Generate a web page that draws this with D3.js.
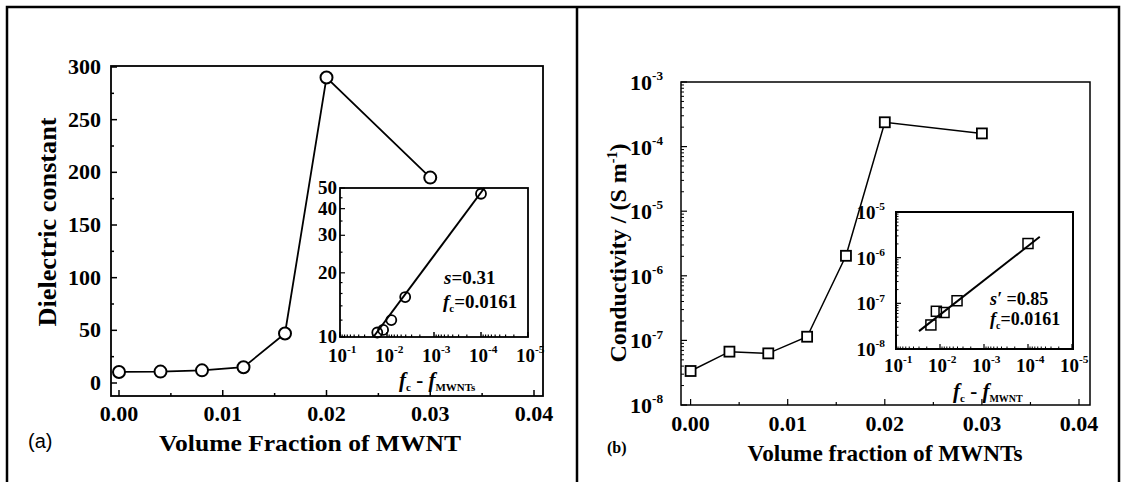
<!DOCTYPE html>
<html><head><meta charset="utf-8">
<script src="https://cdn.jsdelivr.net/npm/d3@7"></script>
<style>
body{margin:0;background:#fff;}
svg{display:block;}
</style></head>
<body>
<svg id="c" width="1126" height="482" style="font-family:'Liberation Serif','DejaVu Serif',serif;font-weight:bold"></svg>
<script>
// ---------- data ----------
const fraction = [0, 0.004, 0.008, 0.012, 0.016, 0.02, 0.03];
const dielectric = [10.5, 10.8, 12, 15, 47, 290, 195];
const conductivity = [3.36e-8, 6.7e-8, 6.3e-8, 1.14e-7, 2.04e-6, 2.38e-4, 1.6e-4];
const insetFcMinusF = [0.0161, 0.0121, 0.0081, 0.0041, 0.0001];
const insetDielectric = [10.5, 10.8, 12, 15.4, 47];
const insetConductivity = [3.36e-8, 6.7e-8, 6.3e-8, 1.14e-7, 2.04e-6];
const fitDielX = [0.0195, 0.000085];
const fitDielY = [10, 50];
const fitCondX = [0.030, 0.000054];
const fitCondY = [2.46e-8, 2.86e-6];
const fracTicks = [0, 0.01, 0.02, 0.03, 0.04];
const fracTickLabels = ["0.00", "0.01", "0.02", "0.03", "0.04"];
const dielTicks = [0, 50, 100, 150, 200, 250, 300];
const insetDielTicks = [10, 20, 30, 40, 50];
const condExps = [-8, -7, -6, -5, -4, -3];
const insetCondExps = [-8, -7, -6, -5];
const insetXExps = [-1, -2, -3, -4, -5];

const SERIF = "'Liberation Serif','DejaVu Serif',serif";
const svg = d3.select("#c");

// outer frame
svg.append("path").attr("d","M7,482V7H1119V482M577,7V482").attr("fill","none").attr("stroke","#000").attr("stroke-width",2.5);

function T(g){ return g.append("text").attr("font-family",SERIF).attr("font-weight","bold").attr("fill","#000"); }
function pow10(g, x, y, exp, size, anchor){
  const t = T(g).attr("x",x).attr("y",y).attr("font-size",size).attr("text-anchor",anchor||"start");
  t.append("tspan").text("10");
  t.append("tspan").attr("dy",-size*0.45).attr("font-size",size*0.6).text(String(exp));
  return t;
}
function box(g,x0,y0,x1,y1,w){
  g.append("rect").attr("x",x0).attr("y",y0).attr("width",x1-x0).attr("height",y1-y0)
   .attr("fill","#fff").attr("stroke","#000").attr("stroke-width",w);
}
function vtick(g,x,y,len,w){ g.append("line").attr("x1",x).attr("x2",x).attr("y1",y).attr("y2",y-len).attr("stroke","#000").attr("stroke-width",w||1.5); }
function htick(g,x,y,len,w){ g.append("line").attr("x1",x).attr("x2",x+len).attr("y1",y).attr("y2",y).attr("stroke","#000").attr("stroke-width",w||1.5); }

// ================= panel (a) =================
const ga = svg.append("g");
const xa = d3.scaleLinear().domain([0,0.04]).range([119,534]);
const ya = d3.scaleLinear().domain([0,300]).range([383,67]);
const A = {x0:111,x1:543,y0:66,y1:396};
box(ga,A.x0,A.y0,A.x1,A.y1,1.8);
d3.range(0,0.0401,0.005).forEach((v,i)=>vtick(ga,xa(v),A.y1,i%2?3:6));
d3.range(0,301,25).forEach((v,i)=>htick(ga,A.x0,ya(v),i%2?3:6));
fracTicks.forEach((v,i)=>T(ga).attr("x",xa(v)).attr("y",421).attr("font-size",22).attr("text-anchor","middle").text(fracTickLabels[i]));
dielTicks.forEach(v=>T(ga).attr("x",101).attr("y",ya(v)+7).attr("font-size",22).attr("text-anchor","end").text(v));
T(ga).attr("x",310).attr("y",451).attr("font-size",24).attr("text-anchor","middle")
  .attr("textLength",302).attr("lengthAdjust","spacingAndGlyphs").text("Volume Fraction of MWNT");
T(ga).attr("transform","translate(56,222) rotate(-90)").attr("font-size",26).attr("text-anchor","middle")
  .attr("textLength",209).attr("lengthAdjust","spacingAndGlyphs").text("Dielectric constant");
ga.append("text").attr("x",28).attr("y",448).attr("font-size",20).attr("fill","#000")
  .attr("font-family","'Liberation Sans',Arial,sans-serif").attr("font-weight","normal").text("(a)");
const ptsA = fraction.map((f,i)=>[xa(f),ya(dielectric[i])]);
ga.append("path").attr("d",d3.line()(ptsA)).attr("fill","none").attr("stroke","#000").attr("stroke-width",1.8);
ga.selectAll("circle.m").data(ptsA).join("circle").attr("cx",d=>d[0]).attr("cy",d=>d[1]).attr("r",6)
  .attr("fill","#fff").attr("stroke","#000").attr("stroke-width",2);

// inset (a)
const xai = d3.scaleLog().domain([0.1,1e-5]).range([340,528]);
const yai = d3.scaleLog().domain([10,50]).range([337,188]);
const AI = {x0:340,x1:528,y0:188,y1:337};
box(ga,AI.x0,AI.y0,AI.x1,AI.y1,1.8);
insetXExps.forEach(e=>{
  vtick(ga,xai(Math.pow(10,e)),AI.y1,5);
  if(e>-5) for(let k=2;k<10;k++) vtick(ga,xai(k*Math.pow(10,e-1)),AI.y1,2.5,1.2);
  pow10(ga,xai(Math.pow(10,e))-12,362,e,19);
});
for(let v=10;v<=50;v+=(v<20?2:5)) htick(ga,AI.x0,yai(v),insetDielTicks.includes(v)?5:2.5,1.2);
insetDielTicks.forEach(v=>T(ga).attr("x",337).attr("y",yai(v)+6).attr("font-size",19).attr("text-anchor","end").text(v));
ga.append("path").attr("d",d3.line()(fitDielX.map((x,i)=>[xai(x),yai(fitDielY[i])]))).attr("fill","none").attr("stroke","#000").attr("stroke-width",2);
const ptsAI = insetFcMinusF.map((f,i)=>[xai(f),yai(insetDielectric[i])]);
ga.selectAll("circle.i").data(ptsAI).join("circle").attr("cx",d=>d[0]).attr("cy",d=>d[1]).attr("r",5)
  .attr("fill","none").attr("stroke","#000").attr("stroke-width",1.8);
{
  const t=T(ga).attr("x",444).attr("y",284).attr("font-size",19);
  t.append("tspan").attr("font-style","italic").text("s");
  t.append("tspan").text("=0.31");
  const t2=T(ga).attr("x",443).attr("y",308).attr("font-size",19);
  t2.append("tspan").attr("font-style","italic").text("f");
  t2.append("tspan").attr("dy",4).attr("font-size",11).text("c");
  t2.append("tspan").attr("dy",-4).text("=0.0161");
  const t3=T(ga).attr("x",399).attr("y",387).attr("font-size",21);
  t3.append("tspan").attr("font-style","italic").text("f");
  t3.append("tspan").attr("dy",4).attr("font-size",11).text("c");
  t3.append("tspan").attr("dy",-4).text(" - ");
  t3.append("tspan").attr("font-style","italic").text("f");
  t3.append("tspan").attr("dy",4).attr("font-size",11).text("MWNTs");
}

// ================= panel (b) =================
const gb = svg.append("g");
const xb = d3.scaleLinear().domain([0,0.04]).range([690.6,1079]);
const yb = d3.scaleLog().domain([1e-8,1e-3]).range([405,82]);
const B = {x0:681,x1:1090,y0:82,y1:405};
box(gb,B.x0,B.y0,B.x1,B.y1,1.5);
d3.range(0,0.0401,0.005).forEach((v,i)=>vtick(gb,xb(v),B.y1,i%2?3:6,1.2));
condExps.forEach(e=>{
  htick(gb,B.x0,yb(Math.pow(10,e)),6,1.2);
  if(e<-3) for(let k=2;k<10;k++) htick(gb,B.x0,yb(k*Math.pow(10,e)),3,1);
  pow10(gb,663,yb(Math.pow(10,e))+8,e,22,"end");
});
fracTicks.forEach((v,i)=>T(gb).attr("x",xb(v)).attr("y",431).attr("font-size",22).attr("text-anchor","middle").text(fracTickLabels[i]));
T(gb).attr("x",885).attr("y",461).attr("font-size",23).attr("text-anchor","middle")
  .attr("textLength",275).attr("lengthAdjust","spacingAndGlyphs").text("Volume fraction of MWNTs");
{
  const t=T(gb).attr("transform","translate(626,253) rotate(-90)").attr("font-size",24).attr("text-anchor","middle");
  t.append("tspan").text("Conductivity / (S m");
  t.append("tspan").attr("dy",-9).attr("font-size",14).text("-1");
  t.append("tspan").attr("dy",9).text(")");
}
T(gb).attr("x",607).attr("y",453).attr("font-size",16).text("(b)");
const ptsB = fraction.map((f,i)=>[xb(f),yb(conductivity[i])]);
gb.append("path").attr("d",d3.line()(ptsB)).attr("fill","none").attr("stroke","#000").attr("stroke-width",1.5);
gb.selectAll("rect.m").data(ptsB).join("rect").attr("x",d=>d[0]-5).attr("y",d=>d[1]-5).attr("width",10).attr("height",10)
  .attr("fill","#fff").attr("stroke","#000").attr("stroke-width",1.8);

// inset (b)
const xbi = d3.scaleLog().domain([0.1,1e-5]).range([896,1072]);
const ybi = d3.scaleLog().domain([1e-8,1e-5]).range([349,212]);
const BI = {x0:896,x1:1073,y0:212,y1:349};
box(gb,BI.x0,BI.y0,BI.x1,BI.y1,2);
insetXExps.forEach(e=>{
  vtick(gb,xbi(Math.pow(10,e)),BI.y1,5,1.2);
  if(e>-5) for(let k=2;k<10;k++) vtick(gb,xbi(k*Math.pow(10,e-1)),BI.y1,2.5,1);
  pow10(gb,xbi(Math.pow(10,e))-12,372,e,19);
});
insetCondExps.forEach(e=>{
  htick(gb,BI.x0,ybi(Math.pow(10,e)),5,1.2);
  if(e<-5) for(let k=2;k<10;k++) htick(gb,BI.x0,ybi(k*Math.pow(10,e)),2.5,1);
  pow10(gb,885,ybi(Math.pow(10,e))+7,e,19,"end");
});
gb.append("path").attr("d",d3.line()(fitCondX.map((x,i)=>[xbi(x),ybi(fitCondY[i])]))).attr("fill","none").attr("stroke","#000").attr("stroke-width",2);
const ptsBI = insetFcMinusF.map((f,i)=>[xbi(f),ybi(insetConductivity[i])]);
gb.selectAll("rect.i").data(ptsBI).join("rect").attr("x",d=>d[0]-5).attr("y",d=>d[1]-5).attr("width",10).attr("height",10)
  .attr("fill","none").attr("stroke","#000").attr("stroke-width",1.5);
{
  const t=T(gb).attr("x",990).attr("y",305).attr("font-size",18);
  t.append("tspan").attr("font-style","italic").text("s′");
  t.append("tspan").text(" =0.85");
  const t2=T(gb).attr("x",990).attr("y",325).attr("font-size",18);
  t2.append("tspan").attr("font-style","italic").text("f");
  t2.append("tspan").attr("dy",4).attr("font-size",10).text("c");
  t2.append("tspan").attr("dy",-4).text("=0.0161");
  const t3=T(gb).attr("x",953).attr("y",398).attr("font-size",21);
  t3.append("tspan").attr("font-style","italic").text("f");
  t3.append("tspan").attr("dy",4).attr("font-size",11).text("c");
  t3.append("tspan").attr("dy",-4).text(" - ");
  t3.append("tspan").attr("font-style","italic").text("f");
  t3.append("tspan").attr("dy",4).attr("font-size",10).text("MWNT");
}
</script>
</body></html>
